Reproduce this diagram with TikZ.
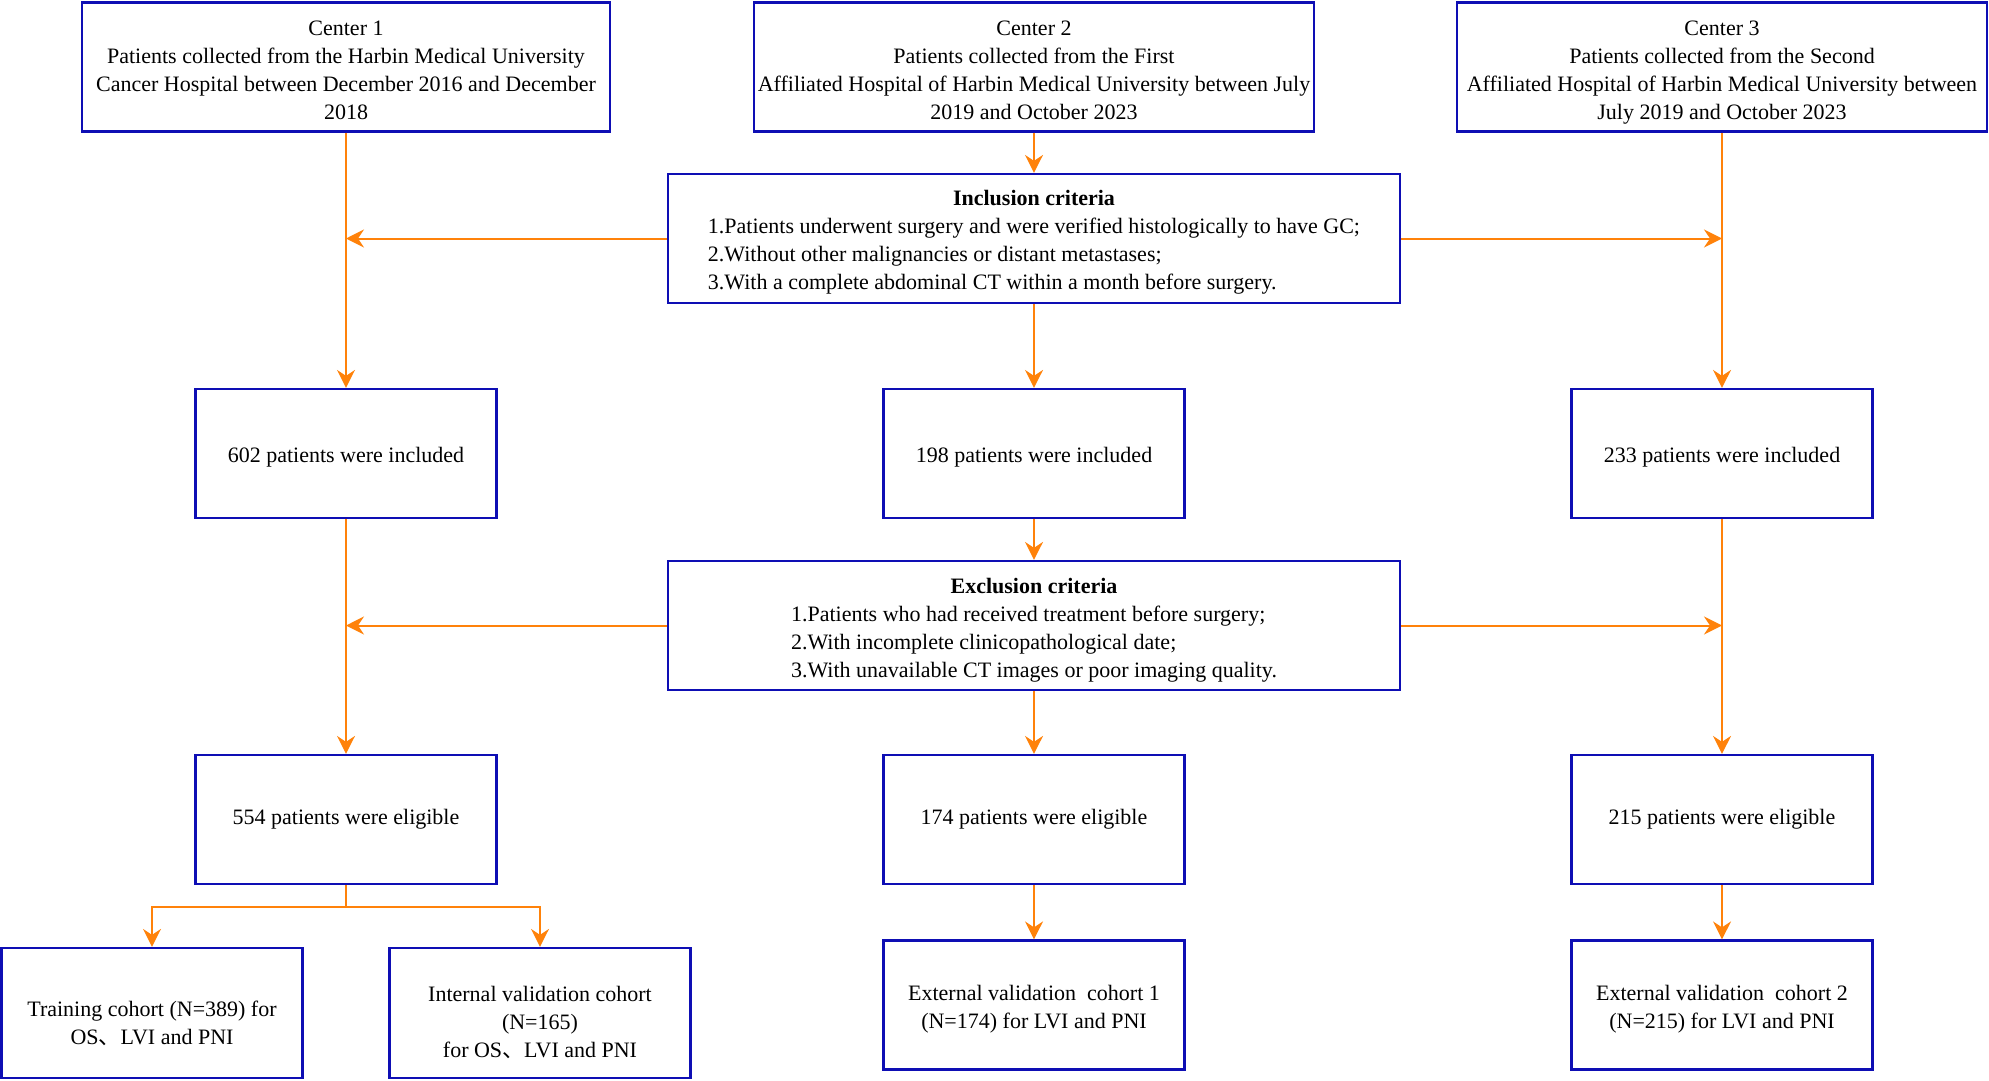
\documentclass[tikz,border=0pt]{standalone}
\usepackage{fontspec}
\setmainfont{Liberation Serif}
\newfontfamily\cjk{Noto Sans CJK SC}
\usetikzlibrary{arrows.meta}
\definecolor{boxblue}{RGB}{14,14,180}
\definecolor{arrorange}{RGB}{255,130,10}
\newcommand{\dunhao}{{\cjk 、}}
\tikzset{
  bluebox/.style={draw=boxblue, line width=2.2pt, minimum width=301pt, minimum height=129pt, inner sep=0pt},
  topbox/.style={bluebox, minimum width=528pt},
  critbox/.style={bluebox, minimum width=732pt},
  boxtext/.style={align=center, inner sep=0pt, font=\fontsize{22}{28}\selectfont},
  orline/.style={draw=arrorange, line width=2pt},
  arr/.style={orline, -{Stealth[length=18pt,width=18pt,inset=6pt]}},
}
\begin{document}
\begin{tikzpicture}[x=1pt,y=1pt,yscale=-1,xscale=1]
    \useasboundingbox (0,0) rectangle (1989,1081);

    % Centers
    \node[topbox, label={[boxtext,yshift=-3pt]center:{Center 1\\Patients collected from the Harbin Medical University\\Cancer Hospital between December 2016 and December\\2018}}] (cen1) at (346,67) {};
    \node[topbox, minimum width=560pt, label={[boxtext,yshift=-3pt]center:{Center 2\\Patients collected from the First\\Affiliated Hospital of Harbin Medical University between July\\2019 and October 2023}}] (cen2) at (1034,67) {};
    \node[topbox, minimum width=530pt, label={[boxtext,yshift=-5.5pt]center:{Center 3\\Patients collected from the Second\\Affiliated Hospital of Harbin Medical University between\\July 2019 and October 2023}}] (cen3) at (1722,67) {};

    % Inclusion criteria
    \node[critbox, label={[boxtext,yshift=-3.5pt]center:{\begin{tabular}{@{}l@{}}\multicolumn{1}{@{}c@{}}{\bfseries Inclusion criteria}\\
      1.Patients underwent surgery and were verified histologically to have GC;\\
      2.Without other malignancies or distant metastases;\\
      3.With a complete abdominal CT within a month before surgery.\end{tabular}}}] (incl) at (1034,238.5) {};

    % Included
    \node[bluebox, label={[boxtext,yshift=-4pt]center:{602 patients were included}}] (incd1) at (346,453.5) {};
    \node[bluebox, label={[boxtext,yshift=-4pt]center:{198 patients were included}}] (incd2) at (1034,453.5) {};
    \node[bluebox, label={[boxtext,yshift=-4pt]center:{233 patients were included}}] (incd3) at (1722,453.5) {};

    % Exclusion criteria
    \node[critbox, label={[boxtext,yshift=-4pt]center:{\begin{tabular}{@{}l@{}}\multicolumn{1}{@{}c@{}}{\bfseries Exclusion criteria}\\
      1.Patients who had received treatment before surgery;\\
      2.With incomplete clinicopathological date;\\
      3.With unavailable CT images or poor imaging quality.\end{tabular}}}] (excl) at (1034,625.5) {};

    % Eligible
    \node[bluebox, label={[boxtext]center:{554 patients were eligible}}] (elig1) at (346,819.5) {};
    \node[bluebox, label={[boxtext]center:{174 patients were eligible}}] (elig2) at (1034,819.5) {};
    \node[bluebox, label={[boxtext]center:{215 patients were eligible}}] (elig3) at (1722,819.5) {};

    % Cohorts
    \node[bluebox, minimum height=130pt, label={[boxtext,yshift=-10pt]center:{Training cohort (N=389) for\\OS\dunhao LVI and PNI}}] (train) at (152,1013) {};
    \node[bluebox, minimum height=130pt, label={[boxtext,yshift=-9pt]center:{Internal validation cohort\\(N=165)\\for OS\dunhao LVI and PNI}}] (intval) at (540,1013) {};
    \node[bluebox, label={[boxtext,yshift=-4pt]center:{External validation\ \ cohort 1\\(N=174) for LVI and PNI}}] (ext1) at (1034,1005) {};
    \node[bluebox, label={[boxtext,yshift=-4pt]center:{External validation\ \ cohort 2\\(N=215) for LVI and PNI}}] (ext2) at (1722,1005) {};

    % Arrows
    \draw[arr] (cen1.south) -- (incd1.north);
    \draw[arr] (cen2.south) -- (incl.north);
    \draw[arr] (cen3.south) -- (incd3.north);
    \draw[arr] (incl.west) -- (incl.west -| cen1.south);
    \draw[arr] (incl.east) -- (incl.east -| cen3.south);
    \draw[arr] (incl.south) -- (incd2.north);

    \draw[arr] (incd1.south) -- (elig1.north);
    \draw[arr] (incd2.south) -- (excl.north);
    \draw[arr] (incd3.south) -- (elig3.north);
    \draw[arr] (excl.west) -- (excl.west -| incd1.south);
    \draw[arr] (excl.east) -- (excl.east -| incd3.south);
    \draw[arr] (excl.south) -- (elig2.north);

    \draw[orline] (elig1.south) -- ++(0,22) coordinate (split);
    \draw[arr] (split) -| (train.north);
    \draw[arr] (split) -| (intval.north);
    \draw[arr] (elig2.south) -- (ext1.north);
    \draw[arr] (elig3.south) -- (ext2.north);

\end{tikzpicture}
\end{document}
